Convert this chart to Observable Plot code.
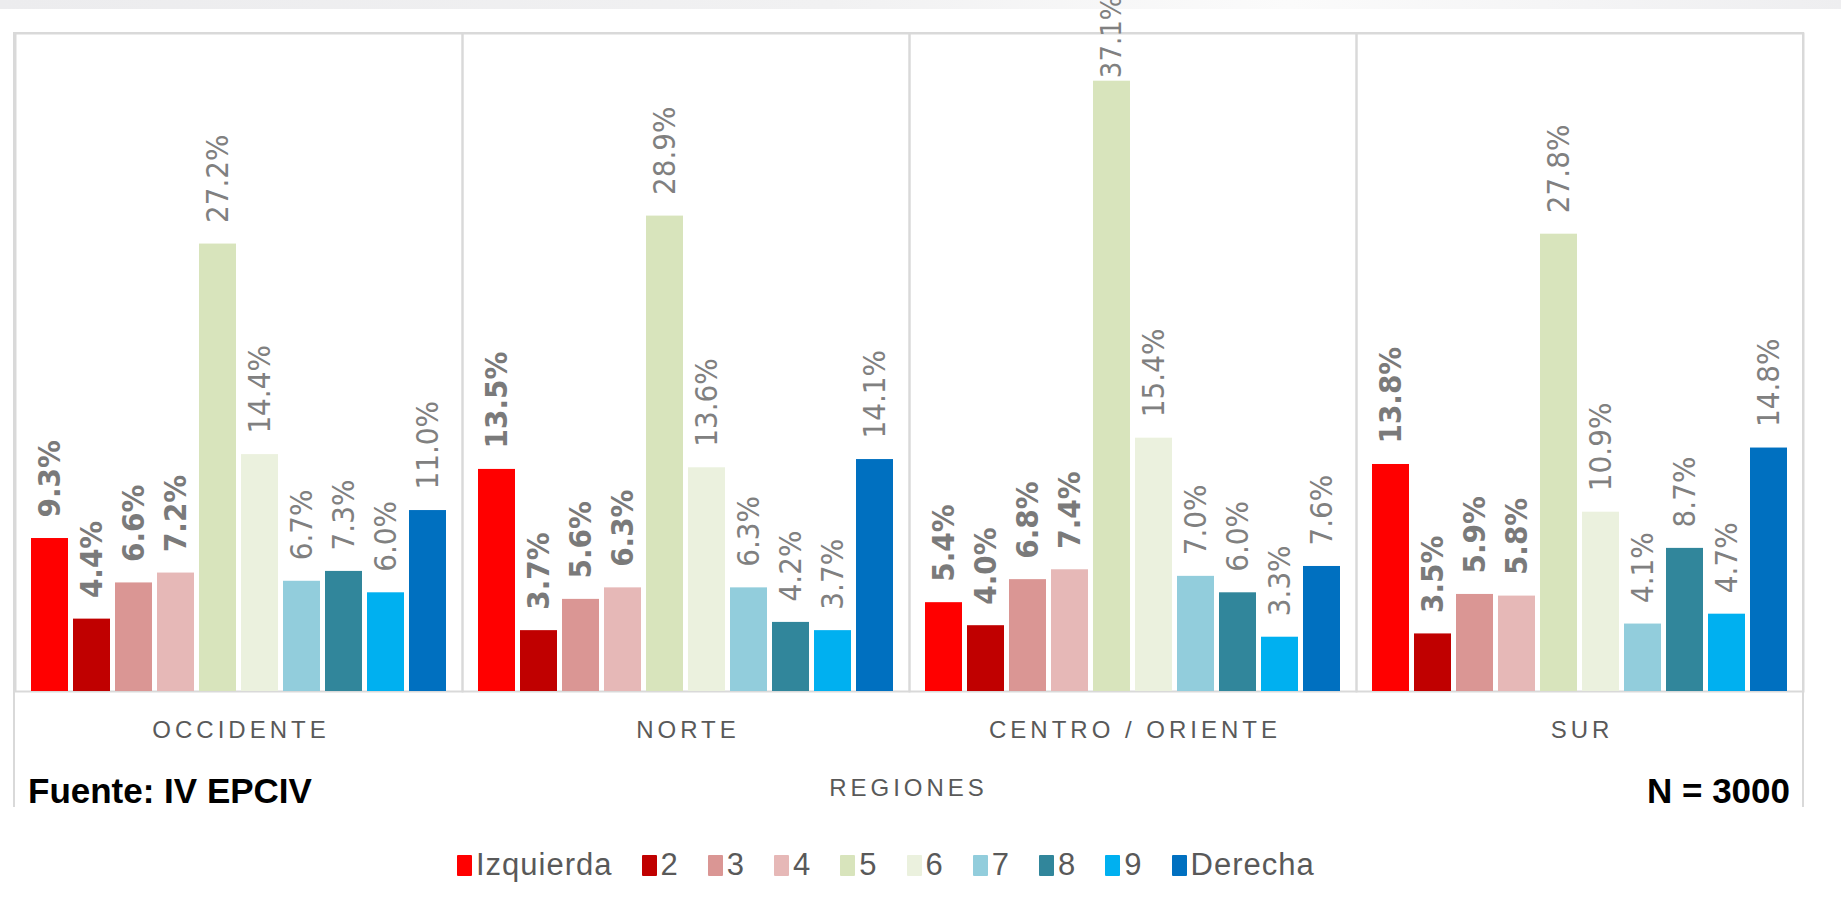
<!DOCTYPE html>
<html>
<head>
<meta charset="utf-8">
<script src="https://cdn.jsdelivr.net/npm/d3@7"></script>
<script src="https://cdn.jsdelivr.net/npm/@observablehq/plot@0.6"></script>
<style>
  body { margin: 0; background: #fff; width: 1841px; height: 911px; overflow: hidden; position: relative;
         font-family: "Liberation Sans", Arial, sans-serif; }
  #band { position: absolute; left: 0; top: 0; width: 1841px; height: 9px;
          background: linear-gradient(to right, #ececee, #f1f1f2 45%, #fbfbfb 70%, #eeeef0); }
  #outer { position: absolute; left: 13px; top: 32px; width: 1791px; height: 775px; box-sizing: border-box;
           border: 2px solid #d9d9d9; border-bottom: none; }
  #chart { position: absolute; left: 0; top: 0; }
  #chart svg { overflow: visible; background: transparent; }
  .cap { position: absolute; font-weight: bold; color: #000; font-size: 35px; line-height: 34px; top: 774px; white-space: nowrap; }
  #fuente { left: 28px; }
  #n { right: 51px; }
  #regiones { position: absolute; left: 14px; width: 1789px; text-align: center; top: 776px; font-size: 24px; line-height: 24px;
              letter-spacing: 4px; color: #595959; }
  #legend { position: absolute; left: 457px; top: 848px; display: flex; align-items: center; gap: 29px;
            font-size: 31px; line-height: 34px; color: #595959; letter-spacing: 1px; }
  #legend .item { display: flex; align-items: center; gap: 4px; }
  #legend .sw { width: 15px; height: 21px; border-radius: 1px; }
</style>
</head>
<body>
<div id="band"></div>
<div id="outer"></div>
<div id="chart"></div>
<div id="fuente" class="cap">Fuente: IV EPCIV</div>
<div id="n" class="cap">N = 3000</div>
<div id="regiones">REGIONES</div>
<div id="legend"></div>
<script>
// ---- data ----
const regions = ["OCCIDENTE", "NORTE", "CENTRO / ORIENTE", "SUR"];
const categories = ["Izquierda", "2", "3", "4", "5", "6", "7", "8", "9", "Derecha"];
const colors = ["#FF0000", "#C00000", "#DA9694", "#E6B8B7", "#D8E4BC", "#EBF1DE", "#92CDDC", "#31869B", "#00B0F0", "#0070C0"];
const occidente = [9.3, 4.4, 6.6, 7.2, 27.2, 14.4, 6.7, 7.3, 6.0, 11.0];
const norte     = [13.5, 3.7, 5.6, 6.3, 28.9, 13.6, 6.3, 4.2, 3.7, 14.1];
const centro    = [5.4, 4.0, 6.8, 7.4, 37.1, 15.4, 7.0, 6.0, 3.3, 7.6];
const sur       = [13.8, 3.5, 5.9, 5.8, 27.8, 10.9, 4.1, 8.7, 4.7, 14.8];
const boldCategories = ["Izquierda", "2", "3", "4"];
const yMax = 40;

const seriesByRegion = [occidente, norte, centro, sur];
const rows = regions.flatMap((r, i) => categories.map((c, j) => ({region: r, cat: c, value: seriesByRegion[i][j]})));
const fmt = d => d.value.toFixed(1) + "%";
const fits = d => d.value <= 35;

const labelFont = '"Liberation Sans Narrow", "DejaVu Sans Condensed", "Liberation Sans", sans-serif';

const chart = Plot.plot({
  width: 1841,
  height: 760,
  marginTop: 33,
  marginBottom: 69,
  marginLeft: 14,
  marginRight: 38,
  style: {background: "transparent", overflow: "visible"},
  fx: {domain: regions, padding: 0, axis: null},
  x: {domain: categories, paddingInner: 0.12, paddingOuter: 0.37, axis: null},
  y: {domain: [0, yMax], axis: null},
  color: {domain: categories, range: colors},
  marks: [
    Plot.frame({stroke: "#d9d9d9", strokeWidth: 2}),
    Plot.barY(rows, {fx: "region", x: "cat", y: "value", fill: "cat"}),
    Plot.text(rows.filter(d => boldCategories.includes(d.cat) && fits(d)), {
      fx: "region", x: "cat", y: "value", text: fmt, rotate: -90, textAnchor: "start", lineAnchor: "middle",
      dy: -21, fill: "#7a7a7a", fontWeight: "bold", fontSize: 31, fontFamily: labelFont
    }),
    Plot.text(rows.filter(d => !boldCategories.includes(d.cat) && fits(d)), {
      fx: "region", x: "cat", y: "value", text: fmt, rotate: -90, textAnchor: "start", lineAnchor: "middle",
      dy: -21, fill: "#808080", fontSize: 31, fontFamily: labelFont
    }),
    Plot.text(rows.filter(d => !fits(d)), {
      fx: "region", x: "cat", y: "value", text: fmt, rotate: -90, textAnchor: "start", lineAnchor: "middle",
      dy: -3, fill: "#808080", fontSize: 29, fontFamily: labelFont
    }),
    Plot.text(regions, {
      fx: d => d, text: d => d, frameAnchor: "bottom", dy: 46, dx: 2, fill: "#595959", fontSize: 24,
      fontFamily: '"Liberation Sans", Arial, sans-serif'
    })
  ]
});
d3.select(chart).selectAll("text")
  .filter(function() { return regions.includes(this.textContent); })
  .style("letter-spacing", "4px");
document.getElementById("chart").appendChild(chart);

// legend
const legend = d3.select("#legend");
categories.forEach((c, i) => {
  const item = legend.append("div").attr("class", "item");
  item.append("div").attr("class", "sw").style("background", colors[i]);
  item.append("span").text(c);
});
</script>
</body>
</html>
